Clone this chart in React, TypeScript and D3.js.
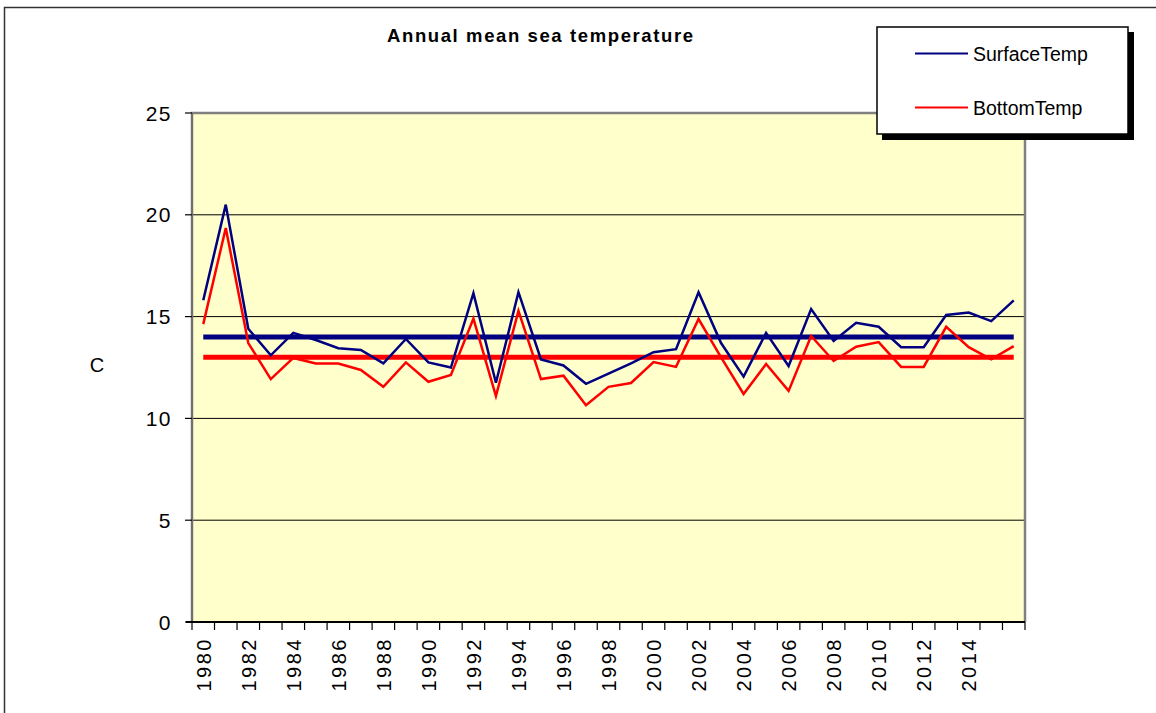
import React from "react";
import * as d3 from "d3";

const years = [
  1980, 1981, 1982, 1983, 1984, 1985, 1986, 1987, 1988, 1989,
  1990, 1991, 1992, 1993, 1994, 1995, 1996, 1997, 1998, 1999,
  2000, 2001, 2002, 2003, 2004, 2005, 2006, 2007, 2008, 2009,
  2010, 2011, 2012, 2013, 2014, 2015, 2016,
];
const surfaceTemp = [
  15.8, 20.5, 14.4, 13.1, 14.2, 13.85, 13.45, 13.36, 12.7, 13.9,
  12.75, 12.5, 16.15, 11.75, 16.2, 12.9, 12.6, 11.7, 12.2, 12.7,
  13.25, 13.4, 16.2, 13.7, 12.05, 14.2, 12.57, 15.37, 13.8, 14.7,
  14.5, 13.5, 13.5, 15.08, 15.2, 14.78, 15.8,
];
const bottomTemp = [
  14.63, 19.35, 13.7, 11.93, 12.97, 12.7, 12.7, 12.38, 11.55, 12.75,
  11.8, 12.13, 14.9, 11.1, 15.28, 11.93, 12.1, 10.65, 11.55, 11.74,
  12.77, 12.53, 14.88, 13.0, 11.2, 12.67, 11.35, 14.05, 12.82, 13.52,
  13.75, 12.53, 12.53, 14.5, 13.5, 12.9, 13.55,
];
const surfaceMean = 14;
const bottomMean = 13;
const yTicks = [0, 5, 10, 15, 20, 25];
const xLabels = [
  "1980", "1982", "1984", "1986", "1988", "1990", "1992", "1994", "1996",
  "1998", "2000", "2002", "2004", "2006", "2008", "2010", "2012", "2014",
];
const seriesNames = ["SurfaceTemp", "BottomTemp"];
const title = "Annual mean sea temperature";
const yTitle = "C";

const W = 1156;
const H = 713;
const plot = { left: 192, right: 1025, top: 113, bottom: 622 };
const BLUE = "#000080";
const RED = "#ff0000";
const FONT = "'Liberation Sans', Arial, sans-serif";

export default function App() {
  const x = d3
    .scaleBand<number>()
    .domain(years)
    .range([plot.left, plot.right])
    .paddingInner(0)
    .paddingOuter(0);
  const cx = (yr: number) => (x(yr) as number) + x.bandwidth() / 2;
  const y = d3.scaleLinear().domain([0, 25]).range([plot.bottom, plot.top]);

  const line = d3
    .line<number>()
    .x((_, i) => cx(years[i]))
    .y((d) => y(d));

  const tickXs = years.map((yr) => x(yr) as number).concat([plot.right]);
  const first = cx(years[0]);
  const last = cx(years[years.length - 1]);

  return (
    <svg
      width={W}
      height={H}
      style={{ position: "absolute", left: 0, top: 0, background: "#fff" }}
      fontFamily={FONT}
    >
      <rect x={0} y={0} width={W} height={H} fill="#fff" />
      {/* outer frame */}
      <rect x={4.5} y={7.5} width={W + 20} height={H + 20} fill="none" stroke="#333" strokeWidth={1.5} />

      {/* title */}
      <text
        x={540}
        y={42}
        textAnchor="middle"
        fontSize={18.5}
        fontWeight="bold"
        textLength={306}
        lengthAdjust="spacing"
      >
        {title}
      </text>

      {/* plot background */}
      <rect
        x={plot.left}
        y={plot.top}
        width={plot.right - plot.left}
        height={plot.bottom - plot.top}
        fill="#ffffcc"
      />
      {/* gridlines */}
      {yTicks
        .filter((t) => t > 0 && t < 25)
        .map((t) => (
          <line key={t} x1={plot.left} x2={plot.right} y1={y(t)} y2={y(t)} stroke="#000" strokeWidth={1} />
        ))}
      {/* plot border */}
      <path
        d={`M${plot.left},${plot.bottom}V${plot.top}H${plot.right}V${plot.bottom}`}
        fill="none"
        stroke="#808080"
        strokeWidth={2.5}
      />
      {/* y axis */}
      <line x1={plot.left} x2={plot.left} y1={plot.top} y2={plot.bottom} stroke="#6a6a6a" strokeWidth={1.5} />
      {yTicks.map((t) => (
        <g key={t}>
          <line x1={plot.left - 7} x2={plot.left} y1={y(t)} y2={y(t)} stroke="#000" strokeWidth={1.2} />
          <text
            x={172}
            y={y(t) + 7.5}
            textAnchor="end"
            fontSize={21}
            letterSpacing={1.5}
          >
            {t}
          </text>
        </g>
      ))}
      <text x={97} y={372} textAnchor="middle" fontSize={20}>
        {yTitle}
      </text>

      {/* x axis */}
      <line x1={plot.left - 6} x2={plot.right} y1={plot.bottom} y2={plot.bottom} stroke="#000" strokeWidth={2} />
      {tickXs.map((tx, i) => (
        <line key={i} x1={tx} x2={tx} y1={plot.bottom} y2={plot.bottom + 8} stroke="#000" strokeWidth={1.2} />
      ))}
      {xLabels.map((lab) => {
        const px = cx(+lab) + 7.5;
        const py = 637;
        return (
          <text
            key={lab}
            x={px}
            y={py}
            transform={`rotate(-90 ${px} ${py})`}
            textAnchor="end"
            fontSize={20}
            letterSpacing={2.5}
          >
            {lab}
          </text>
        );
      })}

      {/* mean lines */}
      <line x1={first} x2={last} y1={y(surfaceMean)} y2={y(surfaceMean)} stroke={BLUE} strokeWidth={5} />
      <line x1={first} x2={last} y1={y(bottomMean)} y2={y(bottomMean)} stroke={RED} strokeWidth={5} />

      {/* data lines */}
      <path d={line(bottomTemp) || ""} fill="none" stroke={RED} strokeWidth={2.5} strokeLinejoin="miter" />
      <path d={line(surfaceTemp) || ""} fill="none" stroke={BLUE} strokeWidth={2.5} strokeLinejoin="miter" />

      {/* legend */}
      <rect x={882} y={32} width={252} height={108} fill="#000" />
      <rect x={877} y={27} width={251} height={107} fill="#fff" stroke="#000" strokeWidth={1.5} />
      {seriesNames.map((name, i) => {
        const ly = i === 0 ? 53.5 : 107.5;
        return (
          <g key={name}>
            <line x1={915} x2={968} y1={ly} y2={ly} stroke={i === 0 ? BLUE : RED} strokeWidth={2} />
            <text x={973} y={ly + 7} fontSize={19.5}>
              {name}
            </text>
          </g>
        );
      })}
    </svg>
  );
}
